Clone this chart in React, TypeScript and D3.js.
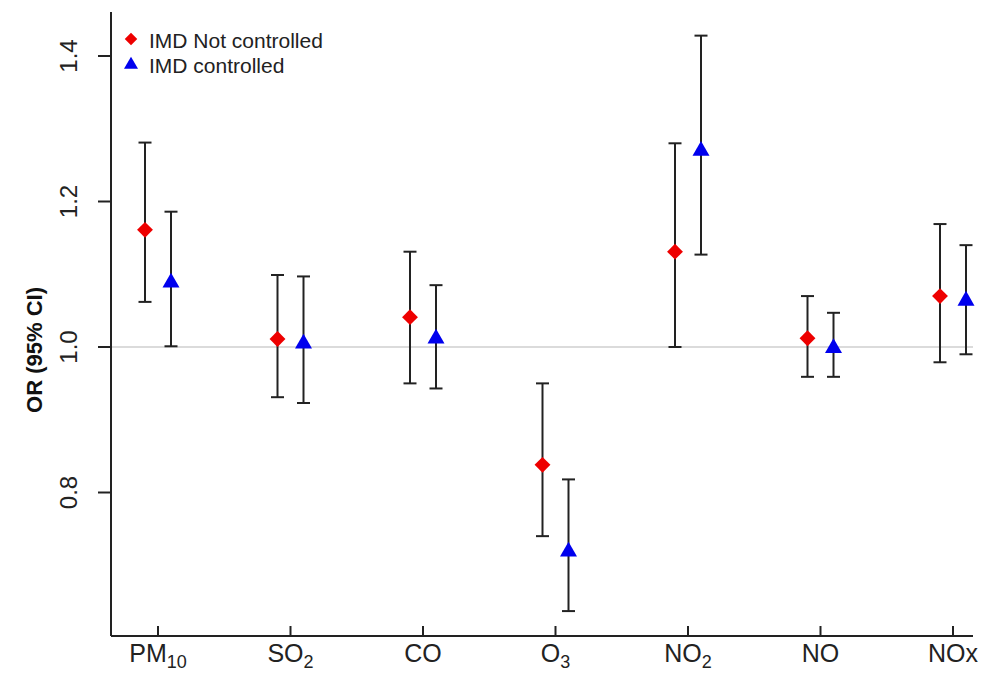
import React from "react";
import * as d3 from "d3";

const categories = ["PM10", "SO2", "CO", "O3", "NO2", "NO", "NOx"];
const labelMain = ["PM", "SO", "CO", "O", "NO", "NO", "NOx"];
const labelSub = ["10", "2", "", "3", "2", "", ""];

const notCtrlOR = [1.161, 1.011, 1.041, 0.838, 1.131, 1.012, 1.07];
const notCtrlLo = [1.062, 0.931, 0.95, 0.74, 1.0, 0.959, 0.979];
const notCtrlHi = [1.281, 1.099, 1.131, 0.95, 1.28, 1.07, 1.169];

const ctrlOR = [1.09, 1.006, 1.013, 0.72, 1.271, 1.0, 1.065];
const ctrlLo = [1.001, 0.923, 0.943, 0.637, 1.127, 0.959, 0.99];
const ctrlHi = [1.186, 1.097, 1.085, 0.818, 1.428, 1.047, 1.14];

const yTicks = [0.8, 1.0, 1.2, 1.4];

export default function App() {
  const W = 982, H = 673;
  const axX = 111, axY = 636, topY = 12, rightX = 973;
  const x = d3.scaleLinear().domain([0, 6]).range([158, 953]);
  const y = d3.scaleLinear().domain([1.0, 1.4]).range([347, 56]);
  const off = 13;
  const font = "'Liberation Sans', Arial, sans-serif";

  const diamond = d3.symbol().type(d3.symbolDiamond2).size(160)();
  const tri = (cx: number, cy: number, s = 17) => {
    const h = s * 0.87;
    return `M${cx},${cy - h * 0.6} L${cx + s / 2},${cy + h * 0.4} L${cx - s / 2},${cy + h * 0.4} Z`;
  };

  const errBar = (cx: number, lo: number, hi: number, key: string) => (
    <g key={key} stroke="#222" strokeWidth={2}>
      <line x1={cx} x2={cx} y1={y(lo)} y2={y(hi)} />
      <line x1={cx - 6.5} x2={cx + 6.5} y1={y(lo)} y2={y(lo)} />
      <line x1={cx - 6.5} x2={cx + 6.5} y1={y(hi)} y2={y(hi)} />
    </g>
  );

  return (
    <svg width={W} height={H} style={{ position: "absolute", left: 0, top: 0, background: "#fff" }}>
      <rect width={W} height={H} fill="#fff" />
      <line x1={axX} x2={rightX} y1={y(1)} y2={y(1)} stroke="#cfcfcf" strokeWidth={1.3} />
      <line x1={axX} x2={axX} y1={topY} y2={axY} stroke="#222" strokeWidth={2} />
      <line x1={axX} x2={rightX} y1={axY} y2={axY} stroke="#222" strokeWidth={2} />
      {yTicks.map((t) => (
        <g key={t}>
          <line x1={axX - 13} x2={axX} y1={y(t)} y2={y(t)} stroke="#222" strokeWidth={2} />
          <text
            transform={`translate(${77},${y(t)}) rotate(-90)`}
            textAnchor="middle"
            fontFamily={font}
            fontSize={24}
            fill="#222"
          >
            {t.toFixed(1)}
          </text>
        </g>
      ))}
      <text
        transform={`translate(42,${350}) rotate(-90)`}
        textAnchor="middle"
        fontFamily={font}
        fontSize={22}
        fontWeight="bold"
        fill="#111"
      >
        OR (95% CI)
      </text>
      {categories.map((c, i) => (
        <g key={c}>
          <line x1={x(i)} x2={x(i)} y1={axY} y2={axY - 10} stroke="#222" strokeWidth={2} />
          <text x={x(i)} y={662} textAnchor="middle" fontFamily={font} fontSize={25} fill="#222">
            {labelMain[i]}
            {labelSub[i] && (
              <tspan fontSize={18} dy={6}>
                {labelSub[i]}
              </tspan>
            )}
          </text>
        </g>
      ))}
      {categories.map((c, i) => errBar(x(i) - off, notCtrlLo[i], notCtrlHi[i], "e1" + c))}
      {categories.map((c, i) => errBar(x(i) + off, ctrlLo[i], ctrlHi[i], "e2" + c))}
      {categories.map((c, i) => (
        <path key={"p1" + c} d={diamond} transform={`translate(${x(i) - off},${y(notCtrlOR[i])})`} fill="#ee0000" />
      ))}
      {categories.map((c, i) => (
        <path key={"p2" + c} d={tri(x(i) + off, y(ctrlOR[i]))} fill="#0000ee" />
      ))}
      <path d={d3.symbol().type(d3.symbolDiamond2).size(100)()} transform="translate(131,39)" fill="#ee0000" />
      <path d={tri(131, 64, 14)} fill="#0000ee" />
      <text x={149} y={48} fontFamily={font} fontSize={21} fill="#222">IMD Not controlled</text>
      <text x={149} y={73} fontFamily={font} fontSize={21} fill="#222">IMD controlled</text>
    </svg>
  );
}
